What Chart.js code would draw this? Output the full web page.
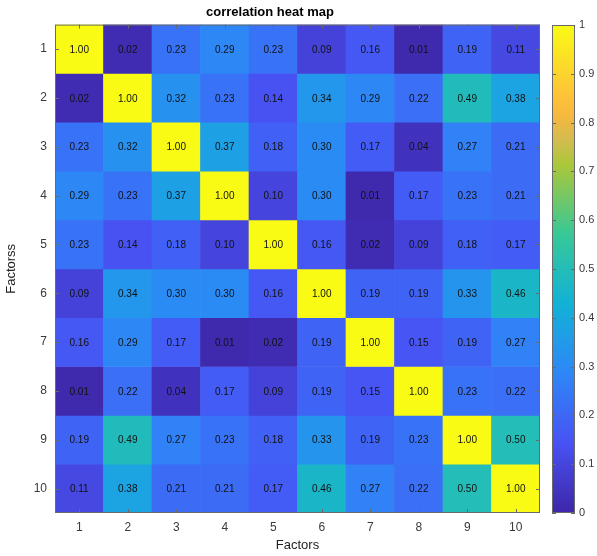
<!DOCTYPE html>
<html>
<head>
<meta charset="utf-8">
<script src="https://cdn.jsdelivr.net/npm/chart.js@4.4.0/dist/chart.umd.min.js"></script>
<style>
  body { margin: 0; background: #fff; }
  #wrap { position: relative; width: 597px; height: 556px; }
  #heat { position: absolute; left: 0; top: 0; }
  #cbar { position: absolute; left: 540px; top: 0; }
</style>
</head>
<body>
<div id="wrap">
  <canvas id="heat" width="597" height="556"></canvas>
  <canvas id="cbar" width="57" height="556"></canvas>
</div>
<script>
// factors on both axes
const factors = ['1', '2', '3', '4', '5', '6', '7', '8', '9', '10'];

// correlation rows
const row1  = [1.00, 0.02, 0.23, 0.29, 0.23, 0.09, 0.16, 0.01, 0.19, 0.11];
const row2  = [0.02, 1.00, 0.32, 0.23, 0.14, 0.34, 0.29, 0.22, 0.49, 0.38];
const row3  = [0.23, 0.32, 1.00, 0.37, 0.18, 0.30, 0.17, 0.04, 0.27, 0.21];
const row4  = [0.29, 0.23, 0.37, 1.00, 0.10, 0.30, 0.01, 0.17, 0.23, 0.21];
const row5  = [0.23, 0.14, 0.18, 0.10, 1.00, 0.16, 0.02, 0.09, 0.18, 0.17];
const row6  = [0.09, 0.34, 0.30, 0.30, 0.16, 1.00, 0.19, 0.19, 0.33, 0.46];
const row7  = [0.16, 0.29, 0.17, 0.01, 0.02, 0.19, 1.00, 0.15, 0.19, 0.27];
const row8  = [0.01, 0.22, 0.04, 0.17, 0.09, 0.19, 0.15, 1.00, 0.23, 0.22];
const row9  = [0.19, 0.49, 0.27, 0.23, 0.18, 0.33, 0.19, 0.23, 1.00, 0.50];
const row10 = [0.11, 0.38, 0.21, 0.21, 0.17, 0.46, 0.27, 0.22, 0.50, 1.00];
const rows = [row1, row2, row3, row4, row5, row6, row7, row8, row9, row10];

// colorbar ticks
const cbarTicks = [0, 0.1, 0.2, 0.3, 0.4, 0.5, 0.6, 0.7, 0.8, 0.9, 1];

// parula-like colormap stops [position, r, g, b]
const parula = [
  [0.000, 62, 38, 168], [0.143, 72, 82, 244], [0.286, 46, 135, 247],
  [0.429, 18, 177, 214], [0.571, 55, 200, 151], [0.714, 171, 199, 57],
  [0.765, 212, 187, 80], [0.815, 246, 184, 62], [0.857, 254, 195, 56],
  [1.000, 249, 251, 21]
];

function parulaColor(v) {
  v = Math.max(0, Math.min(1, v));
  let i = 0;
  while (i < parula.length - 2 && v > parula[i + 1][0]) i++;
  const a = parula[i], b = parula[i + 1];
  const t = (v - a[0]) / (b[0] - a[0]);
  const c = [1, 2, 3].map(k => Math.round(a[k] + (b[k] - a[k]) * t));
  return 'rgb(' + c.join(',') + ')';
}

const FONT = "'Liberation Sans', Arial, sans-serif";
const TICK_COLOR = '#3a3a3a';

// each row is one stacked dataset of unit-height cells
const datasets = rows.map((r, i) => ({
  label: 'row ' + factors[i],
  data: r.map(() => 1),
  values: r,
  backgroundColor: r.map(v => parulaColor(v)),
  borderWidth: 0,
  barPercentage: 1,
  categoryPercentage: 1
}));

const cellLabels = {
  id: 'cellLabels',
  afterDatasetsDraw(chart) {
    const ctx = chart.ctx;
    ctx.save();
    ctx.font = '10px ' + FONT;
    ctx.fillStyle = '#111';
    ctx.textAlign = 'center';
    ctx.textBaseline = 'middle';
    chart.data.datasets.forEach((ds, i) => {
      chart.getDatasetMeta(i).data.forEach((bar, j) => {
        ctx.fillText(ds.values[j].toFixed(2), bar.x, (bar.y + bar.base) / 2 + 1);
      });
    });
    ctx.restore();
  }
};

// axes box with small inward tick marks
const boxLine = {
  id: 'boxLine',
  afterDraw(chart) {
    const a = chart.chartArea;
    const ctx = chart.ctx;
    ctx.save();
    ctx.strokeStyle = '#6a6a6a';
    ctx.lineWidth = 1;
    ctx.strokeRect(a.left + 0.5, a.top + 0.5, a.right - a.left - 1, a.bottom - a.top - 1);
    const len = 4;
    ctx.beginPath();
    Object.values(chart.scales).forEach(sc => {
      if (!sc.options.display) return;
      sc.ticks.forEach((t, k) => {
        const p = Math.round(sc.getPixelForTick(k)) + 0.5;
        if (sc.isHorizontal()) {
          ctx.moveTo(p, a.top); ctx.lineTo(p, a.top + len);
          ctx.moveTo(p, a.bottom); ctx.lineTo(p, a.bottom - len);
        } else {
          ctx.moveTo(a.left, p); ctx.lineTo(a.left + len, p);
          ctx.moveTo(a.right, p); ctx.lineTo(a.right - len, p);
        }
      });
    });
    ctx.stroke();
    ctx.restore();
  }
};

new Chart(document.getElementById('heat').getContext('2d'), {
  type: 'bar',
  data: { labels: factors, datasets: datasets },
  plugins: [cellLabels, boxLine],
  options: {
    responsive: false,
    animation: false,
    layout: { padding: { left: 0, right: 57, top: 0, bottom: 0 } },
    plugins: {
      legend: { display: false },
      tooltip: { enabled: false },
      title: {
        display: true,
        text: 'correlation heat map',
        color: '#000',
        font: { family: FONT, size: 13, weight: 'bold' },
        padding: { top: 5, bottom: 4 }
      }
    },
    scales: {
      x: {
        stacked: true,
        grid: { display: false, drawTicks: false },
        border: { display: false },
        ticks: { color: TICK_COLOR, font: { family: FONT, size: 12 }, padding: 7 },
        title: { display: true, text: 'Factors', color: '#222', font: { family: FONT, size: 13 }, padding: { top: 2, bottom: 3 } },
        afterFit(scale) { scale.height = 43; }
      },
      y: {
        stacked: true,
        reverse: true,
        min: 0,
        max: rows.length,
        grid: { display: false, drawTicks: false },
        border: { display: false },
        afterBuildTicks(scale) {
          scale.ticks = factors.map((f, i) => ({ value: i + 0.5 }));
        },
        ticks: {
          color: TICK_COLOR,
          font: { family: FONT, size: 12 },
          padding: 8,
          callback: (v) => factors[Math.round(v - 0.5)]
        },
        title: { display: true, text: 'Factorss', color: '#222', font: { family: FONT, size: 13 }, padding: { top: 4, bottom: 2 } },
        afterFit(scale) { scale.width = 55; }
      }
    }
  }
});

// colorbar
new Chart(document.getElementById('cbar').getContext('2d'), {
  type: 'bar',
  data: {
    labels: [''],
    datasets: [{
      data: [1],
      borderWidth: 0,
      barPercentage: 1,
      categoryPercentage: 1,
      backgroundColor(c) {
        const area = c.chart.chartArea;
        if (!area) return parulaColor(0.5);
        const g = c.chart.ctx.createLinearGradient(0, area.bottom, 0, area.top);
        parula.forEach(s => g.addColorStop(s[0], 'rgb(' + s.slice(1).join(',') + ')'));
        return g;
      }
    }]
  },
  plugins: [boxLine],
  options: {
    responsive: false,
    animation: false,
    layout: { padding: { left: 12, right: 0, top: 25, bottom: 43 } },
    plugins: { legend: { display: false }, tooltip: { enabled: false } },
    scales: {
      x: { display: false },
      y: {
        position: 'right',
        min: 0,
        max: 1,
        grid: { display: false, drawTicks: false },
        border: { display: false },
        afterBuildTicks(scale) {
          scale.ticks = cbarTicks.map(v => ({ value: v }));
        },
        ticks: {
          color: TICK_COLOR,
          font: { family: FONT, size: 11 },
          padding: 4,
          callback: (v) => String(Math.round(v * 10) / 10)
        },
        afterFit(scale) { scale.width = 22; }
      }
    }
  }
});
</script>
</body>
</html>
